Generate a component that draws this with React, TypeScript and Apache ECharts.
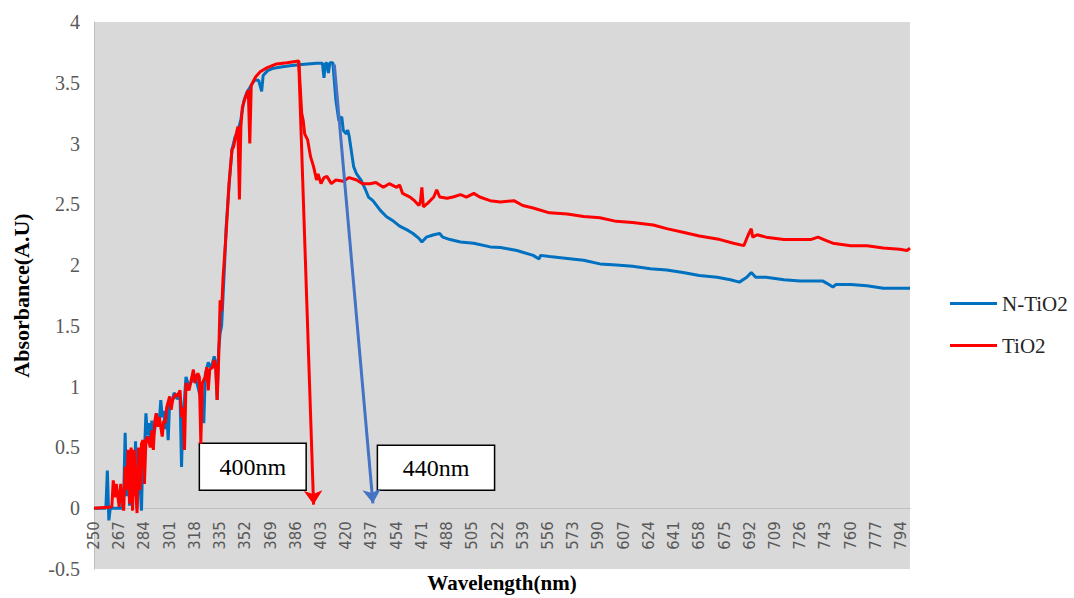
import React, { useEffect, useRef } from "react";
import * as echarts from "echarts";

// Category axis: wavelength in nm, 250..800 (1 nm steps), labels every 17 nm
const categories: string[] = Array.from({ length: 551 }, (_, i) => String(250 + i));

const legendNames = ["N-TiO2", "TiO2"];

// [wavelength (nm), absorbance]
const nTiO2Points: [number, number][] = [
  [250, 0], [258, 0], [259, 0.31], [260, -0.1], [261, 0], [269, 0], [270, 0.1], [271, 0.62], [272, 0.1],
  [273, 0.4], [274, 0.02], [275, 0.45], [277, 0.1], [278, 0.55], [279, 0], [280, 0.48], [281, 0.2],
  [282, -0.02], [283, 0.5], [284, 0.45], [285, 0.78], [286, 0.6], [287, 0.7], [288, 0.55], [289, 0.72],
  [290, 0.6], [291, 0.65], [292, 0.78], [294, 0.7], [295, 0.89], [296, 0.75], [297, 0.8], [298, 0.65],
  [299, 0.8], [300, 0.56], [301, 0.88], [302, 0.85], [304, 0.95], [306, 0.9], [308, 0.92], [309, 0.34],
  [310, 0.8], [311, 0.9], [312, 1.08], [314, 1.0], [316, 1.05], [318, 1.1], [320, 1.0], [322, 0.9],
  [324, 0.7], [325, 1.1], [327, 1.2], [329, 1.15], [331, 1.25], [332, 1.2], [333, 0.89], [334, 1.3],
  [335, 1.44], [336, 1.5], [337, 1.75], [338, 2.0], [339, 2.3], [341, 2.65], [343, 2.95], [345, 3.05],
  [347, 3.1], [349, 3.2], [351, 3.35], [353, 3.42], [356, 3.48], [358, 3.52], [361, 3.52], [363, 3.43],
  [364, 3.56], [367, 3.6], [371, 3.62], [376, 3.63], [382, 3.64], [390, 3.65], [400, 3.66], [404, 3.66],
  [405, 3.54], [406, 3.66], [407, 3.66], [408, 3.58], [409, 3.665], [411, 3.665], [413, 3.36], [415, 3.19],
  [417, 3.22], [418, 3.11], [420, 3.08], [421, 3.11], [422, 3.06], [425, 2.81], [427, 2.75], [430, 2.7],
  [433, 2.62], [435, 2.56], [438, 2.53], [443, 2.45], [447, 2.4], [452, 2.36], [456, 2.32], [461, 2.29],
  [465, 2.26], [469, 2.22], [471, 2.19], [474, 2.23], [479, 2.25], [483, 2.26], [485, 2.23], [490, 2.21],
  [497, 2.19], [506, 2.18], [517, 2.15], [524, 2.145], [535, 2.12], [546, 2.08], [550, 2.05], [551, 2.08],
  [557, 2.07], [569, 2.055], [580, 2.04], [591, 2.01], [602, 2.0], [613, 1.99], [625, 1.97], [636, 1.96],
  [647, 1.94], [658, 1.915], [670, 1.9], [679, 1.88], [685, 1.86], [690, 1.9], [693, 1.94], [696, 1.9],
  [703, 1.9], [715, 1.88], [726, 1.87], [741, 1.87], [744, 1.85], [748, 1.82], [750, 1.84], [760, 1.84],
  [771, 1.83], [782, 1.81], [800, 1.81],
];

const tiO2Points: [number, number][] = [
  [250, 0], [262, 0.01], [263, 0.23], [264, 0.09], [265, 0.2], [267, 0.01], [268, 0.2], [270, -0.02],
  [271, 0.34], [272, 0.15], [273, 0.48], [274, 0.04], [275, 0.5], [276, -0.02], [277, 0.48], [279, -0.04],
  [280, 0.5], [281, 0.15], [282, 0.53], [283, 0.56], [284, 0.2], [285, 0.56], [286, 0.59], [288, 0.5],
  [289, 0.64], [290, 0.48], [291, 0.72], [292, 0.78], [293, 0.67], [294, 0.75], [296, 0.59], [297, 0.72],
  [298, 0.7], [299, 0.83], [301, 0.92], [302, 0.81], [303, 0.89], [305, 0.94], [306, 0.92], [308, 0.97],
  [309, 0.75], [310, 0.83], [311, 0.48], [312, 1.03], [314, 0.97], [316, 1.08], [317, 1.14], [318, 1.03],
  [320, 1.11], [321, 1.08], [322, 0.53], [323, 1.03], [325, 1.08], [326, 1.16], [327, 0.97], [328, 1.14],
  [330, 1.16], [331, 1.22], [332, 1.16], [333, 0.89], [334, 1.22], [335, 1.71], [336, 1.62], [337, 1.9],
  [339, 2.25], [341, 2.67], [343, 2.95], [344, 2.97], [345, 3.03], [347, 3.14], [348, 2.54], [349, 3.14],
  [350, 3.3], [352, 3.38], [353, 3.41], [354, 3.44], [355, 3.0], [356, 3.48], [359, 3.55], [362, 3.59],
  [366, 3.62], [373, 3.655], [380, 3.665], [388, 3.68], [390, 3.25], [391, 3.19], [392, 3.08], [394, 3.03],
  [396, 2.89], [398, 2.81], [400, 2.7], [401, 2.75], [403, 2.67], [405, 2.72], [407, 2.73], [410, 2.67],
  [413, 2.7], [418, 2.69], [422, 2.72], [427, 2.7], [431, 2.67], [436, 2.67], [440, 2.68], [445, 2.64],
  [449, 2.67], [454, 2.64], [456, 2.66], [458, 2.59], [463, 2.56], [466, 2.53], [469, 2.49], [470, 2.52],
  [471, 2.64], [472, 2.48], [475, 2.51], [479, 2.56], [481, 2.62], [483, 2.56], [488, 2.55], [492, 2.56],
  [497, 2.58], [501, 2.56], [506, 2.59], [510, 2.56], [517, 2.53], [524, 2.52], [533, 2.53], [539, 2.49],
  [546, 2.47], [557, 2.43], [569, 2.42], [580, 2.4], [591, 2.39], [602, 2.36], [613, 2.35], [627, 2.33],
  [636, 2.3], [647, 2.27], [658, 2.24], [672, 2.21], [681, 2.18], [688, 2.16], [691, 2.25], [693, 2.3],
  [694, 2.23], [697, 2.25], [703, 2.23], [715, 2.21], [726, 2.21], [733, 2.21], [738, 2.23], [744, 2.2],
  [748, 2.18], [760, 2.16], [771, 2.16], [782, 2.14], [793, 2.13], [798, 2.12], [800, 2.14],
];

// annotation arrows: [start wavelength, start absorbance, end wavelength, end absorbance]
const redArrow = [388, 3.67, 398, 0.03];
const blueArrow = [412, 3.65, 438, 0.04];
// annotation boxes: [label, wl1, abs1, wl2, abs2]
const boxes: [string, number, number, number, number][] = [
  ["400nm", 321, 0.535, 393, 0.148],
  ["440nm", 441, 0.519, 520, 0.148],
];

const toSeries = (pts: [number, number][]) => pts.map(([w, v]) => [String(w), v]);

const GRID_TOP = 22;
const GRID_BOTTOM = 29;
const CHART_H = 598;

export default function App() {
  const ref = useRef<HTMLDivElement>(null);
  useEffect(() => {
    document.body.style.margin = "0";
    const chart = echarts.init(ref.current!, null, { renderer: "svg" });
    const serif = "'Liberation Serif', 'Times New Roman', serif";
    // x-axis sits at absorbance 0: shift it up from the grid bottom by the height of the [-0.5, 0] band
    const plotH = CHART_H - GRID_TOP - GRID_BOTTOM;
    const zeroShift = (plotH * 0.5) / 4.5;
    chart.setOption({
      animation: false,
      backgroundColor: "#ffffff",
      grid: {
        left: 94, right: 164, top: GRID_TOP, bottom: GRID_BOTTOM,
        containLabel: false,
        outerBoundsMode: "none",
        show: true, backgroundColor: "#d9d9d9", borderWidth: 0,
      },
      legend: {
        data: legendNames,
        orient: "vertical",
        left: 945,
        top: 288,
        icon: "rect",
        itemWidth: 47,
        itemHeight: 3,
        itemGap: 21,
        textStyle: { fontFamily: serif, fontSize: 21, color: "#262626", lineHeight: 21 },
      },
      xAxis: {
        type: "category",
        data: categories,
        boundaryGap: false,
        offset: -zeroShift,
        axisLine: { onZero: false, lineStyle: { color: "#bfbfbf", width: 1 } },
        axisTick: { show: false },
        splitLine: { show: false },
        axisLabel: {
          interval: 16, rotate: 90, color: "#595959",
          fontFamily: "'DejaVu Sans', sans-serif", fontSize: 15, margin: 13,
        },
        name: "Wavelength(nm)",
        nameLocation: "middle",
        nameGap: 64,
        nameMoveOverlap: false,
        nameTextStyle: { fontFamily: serif, fontWeight: "bold", fontSize: 21, color: "#000" },
      },
      yAxis: {
        type: "value",
        min: -0.5, max: 4, interval: 0.5,
        axisLine: { show: true, lineStyle: { color: "#bfbfbf" } },
        axisTick: { show: false },
        splitLine: { show: false },
        axisLabel: { color: "#595959", fontFamily: serif, fontSize: 20, margin: 14 },
        name: "Absorbance(A.U)",
        nameLocation: "middle",
        nameGap: 62,
        nameMoveOverlap: false,
        nameTextStyle: { fontFamily: serif, fontWeight: "bold", fontSize: 22, color: "#000" },
      },
      series: [
        {
          name: "N-TiO2", type: "line", symbol: "none",
          data: toSeries(nTiO2Points),
          lineStyle: { color: "#0070c0", width: 3 },
          itemStyle: { color: "#0070c0" },
          z: 2,
        },
        {
          name: "TiO2", type: "line", symbol: "none",
          data: toSeries(tiO2Points),
          lineStyle: { color: "#ff0000", width: 3 },
          itemStyle: { color: "#ff0000" },
          z: 3,
        },
        {
          name: "annotations", type: "line", data: [], z: 10,
          markLine: {
            silent: true,
            symbol: ["none", "arrow"],
            symbolSize: 14,
            label: { show: false },
            data: [
              [
                { coord: [String(redArrow[0]), redArrow[1]], lineStyle: { color: "#ff0000", width: 3, type: "solid" }, itemStyle: { color: "#ff0000" } },
                { coord: [String(redArrow[2]), redArrow[3]] },
              ],
              [
                { coord: [String(blueArrow[0]), blueArrow[1]], lineStyle: { color: "#4472c4", width: 3, type: "solid" }, itemStyle: { color: "#4472c4" } },
                { coord: [String(blueArrow[2]), blueArrow[3]] },
              ],
            ],
          },
          markArea: {
            silent: true,
            itemStyle: { color: "#ffffff", borderColor: "#000000", borderWidth: 1.5 },
            label: {
              show: true, position: "inside", color: "#000",
              fontFamily: serif, fontSize: 24,
            },
            data: boxes.map(([name, w1, a1, w2, a2]) => [
              { name, coord: [String(w1), a1] },
              { coord: [String(w2), a2] },
            ]),
          },
        },
      ],
    });
    return () => chart.dispose();
  }, []);
  return <div ref={ref} style={{ width: 1074, height: 598 }} />;
}
